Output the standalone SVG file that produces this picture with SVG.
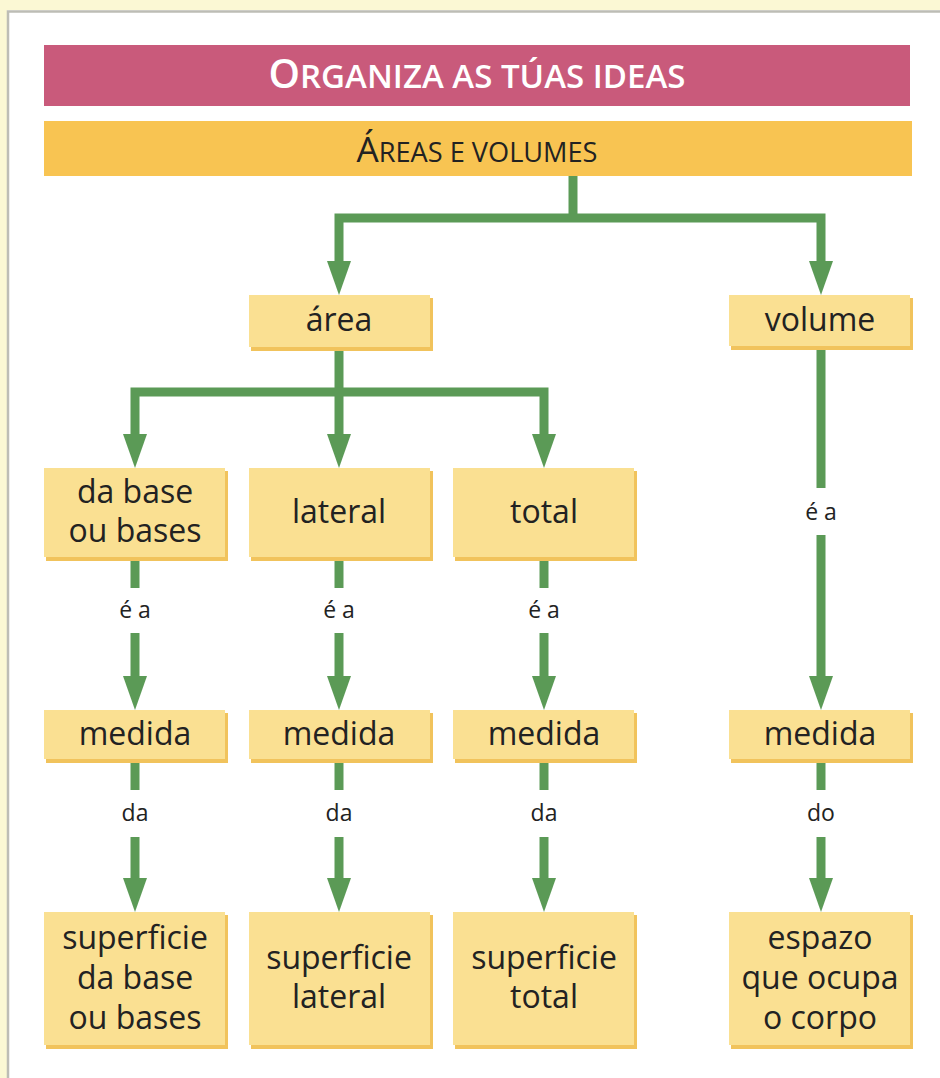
<svg xmlns="http://www.w3.org/2000/svg" width="940" height="1078" viewBox="0 0 940 1078">
<defs>
<style>
.node{fill:#fae092}
.shadow{fill:#f1c35c}
.lbl{font-family:"Open Sans","Liberation Sans",sans-serif;font-size:32px;fill:#222;text-anchor:middle}
.small{font-family:"Open Sans","Liberation Sans",sans-serif;font-size:23px;fill:#222;text-anchor:middle}
.conn{fill:none;stroke:#5b9a56;stroke-width:9;stroke-linejoin:miter}
</style>
<marker id="arr" viewBox="0 0 34 24" refX="0" refY="12" markerWidth="34" markerHeight="24" markerUnits="userSpaceOnUse" orient="auto-start-reverse">
<path d="M0,0 L34,12 L0,24 z" fill="#5b9a56"/>
</marker>
</defs>
<rect x="0" y="0" width="940" height="1078" fill="#ffffff"/>
<rect x="0" y="0" width="940" height="10" fill="#fbf8d4"/>
<rect x="0" y="0" width="7" height="1078" fill="#fbf8d4"/>
<path d="M8,1078 V11.5 H940" fill="none" stroke="#bdbdb5" stroke-width="2.5"/>

<g id="title">
<rect x="44" y="45" width="866" height="61" fill="#c95a7b"/>
<text x="477" y="88" text-anchor="middle" font-family="Open Sans,Liberation Sans,sans-serif" font-weight="600" fill="#ffffff" textLength="417" lengthAdjust="spacingAndGlyphs"><tspan font-size="40">O</tspan><tspan font-size="33">RGANIZA AS TÚAS IDEAS</tspan></text>
</g>
<g id="subtitle">
<rect x="44" y="121" width="868" height="55" fill="#f8c452"/>
<text x="477" y="162" text-anchor="middle" font-family="Open Sans,Liberation Sans,sans-serif" fill="#222" textLength="241" lengthAdjust="spacingAndGlyphs"><tspan font-size="35">Á</tspan><tspan font-size="27">REAS E VOLUMES</tspan></text>
</g>

<g id="connectors">
<path class="conn" d="M573,176 V218"/>
<path class="conn" d="M339,261 V218 H821 V261" marker-start="url(#arr)" marker-end="url(#arr)"/>
<path class="conn" d="M339,350 V392"/>
<path class="conn" d="M135,434 V392 H544 V434" marker-start="url(#arr)" marker-end="url(#arr)"/>
<path class="conn" d="M339,392 V434" marker-end="url(#arr)"/>
<path class="conn" d="M135,560 V588"/>
<path class="conn" d="M339,560 V588"/>
<path class="conn" d="M544,560 V588"/>
<path class="conn" d="M821,348 V488"/>
<path class="conn" d="M135,633 V676" marker-end="url(#arr)"/>
<path class="conn" d="M339,633 V676" marker-end="url(#arr)"/>
<path class="conn" d="M544,633 V676" marker-end="url(#arr)"/>
<path class="conn" d="M821,535 V676" marker-end="url(#arr)"/>
<path class="conn" d="M135,762 V790"/>
<path class="conn" d="M339,762 V790"/>
<path class="conn" d="M544,762 V790"/>
<path class="conn" d="M821,762 V790"/>
<path class="conn" d="M135,837 V878" marker-end="url(#arr)"/>
<path class="conn" d="M339,837 V878" marker-end="url(#arr)"/>
<path class="conn" d="M544,837 V878" marker-end="url(#arr)"/>
<path class="conn" d="M821,837 V878" marker-end="url(#arr)"/>
<text class="small" x="135" y="618">é a</text>
<text class="small" x="339" y="618">é a</text>
<text class="small" x="544" y="618">é a</text>
<text class="small" x="821" y="520">é a</text>
<text class="small" x="135" y="821">da</text>
<text class="small" x="339" y="821">da</text>
<text class="small" x="544" y="821">da</text>
<text class="small" x="821" y="821">do</text>
</g>

<g id="n-area">
<rect class="shadow" x="251" y="298" width="182" height="53"/>
<rect class="node" x="249" y="295" width="181" height="52"/>
<text class="lbl" x="339" y="331">área</text>
</g>
<g id="n-volume">
<rect class="shadow" x="731" y="298" width="182" height="52"/>
<rect class="node" x="729" y="295" width="181" height="51"/>
<text class="lbl" x="820" y="331">volume</text>
</g>

<g id="n-dabase">
<rect class="shadow" x="46" y="471" width="182" height="90"/>
<rect class="node" x="44" y="468" width="181" height="89"/>
<text class="lbl" x="135" y="503">da base</text>
<text class="lbl" x="135" y="542">ou bases</text>
</g>
<g id="n-lateral">
<rect class="shadow" x="251" y="471" width="182" height="90"/>
<rect class="node" x="249" y="468" width="181" height="89"/>
<text class="lbl" x="339" y="523">lateral</text>
</g>
<g id="n-total">
<rect class="shadow" x="455" y="471" width="182" height="90"/>
<rect class="node" x="453" y="468" width="181" height="89"/>
<text class="lbl" x="544" y="523">total</text>
</g>

<g id="n-medida1">
<rect class="shadow" x="46" y="713" width="182" height="50"/>
<rect class="node" x="44" y="710" width="181" height="49"/>
<text class="lbl" x="135" y="745">medida</text>
</g>
<g id="n-medida2">
<rect class="shadow" x="251" y="713" width="182" height="50"/>
<rect class="node" x="249" y="710" width="181" height="49"/>
<text class="lbl" x="339" y="745">medida</text>
</g>
<g id="n-medida3">
<rect class="shadow" x="455" y="713" width="182" height="50"/>
<rect class="node" x="453" y="710" width="181" height="49"/>
<text class="lbl" x="544" y="745">medida</text>
</g>
<g id="n-medida4">
<rect class="shadow" x="731" y="713" width="182" height="50"/>
<rect class="node" x="729" y="710" width="181" height="49"/>
<text class="lbl" x="820" y="745">medida</text>
</g>

<g id="n-sup-base">
<rect class="shadow" x="46" y="915" width="182" height="134"/>
<rect class="node" x="44" y="912" width="181" height="133"/>
<text class="lbl" x="135" y="949">superficie</text>
<text class="lbl" x="135" y="989">da base</text>
<text class="lbl" x="135" y="1029">ou bases</text>
</g>
<g id="n-sup-lateral">
<rect class="shadow" x="251" y="915" width="182" height="134"/>
<rect class="node" x="249" y="912" width="181" height="133"/>
<text class="lbl" x="339" y="969">superficie</text>
<text class="lbl" x="339" y="1008">lateral</text>
</g>
<g id="n-sup-total">
<rect class="shadow" x="455" y="915" width="182" height="134"/>
<rect class="node" x="453" y="912" width="181" height="133"/>
<text class="lbl" x="544" y="969">superficie</text>
<text class="lbl" x="544" y="1008">total</text>
</g>
<g id="n-espazo">
<rect class="shadow" x="731" y="915" width="182" height="134"/>
<rect class="node" x="729" y="912" width="181" height="133"/>
<text class="lbl" x="820" y="949">espazo</text>
<text class="lbl" x="820" y="989">que ocupa</text>
<text class="lbl" x="820" y="1029">o corpo</text>
</g>
</svg>
